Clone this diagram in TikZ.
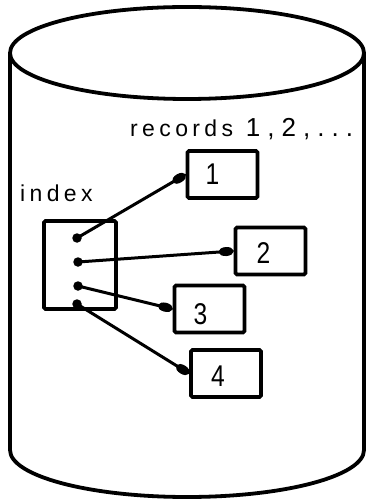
\documentclass[tikz,border=0pt]{standalone}
\usepackage{fontspec}
\setmainfont{Liberation Sans}
\newfontfamily\labelfont[LetterSpace=19]{Liberation Sans}
\newfontfamily\countfont[LetterSpace=27]{Liberation Sans}
\usetikzlibrary{arrows.meta}
\begin{document}
\begin{tikzpicture}[x=1pt, y=-1pt,
  outline/.style={line width=3.8pt, line join=round},
  recbox/.style={draw, line width=3.8pt, rounded corners=1.5pt,
    minimum width=70pt, minimum height=47pt, inner sep=0pt},
  idxbox/.style={draw, line width=3.8pt, rounded corners=1.5pt,
    minimum width=72pt, minimum height=88pt, inner sep=0pt},
  dot/.style={circle, fill, inner sep=0pt, minimum size=9.5pt},
  link/.style={line width=3pt, -{Circle[length=15pt, width=9pt]}},
  caption/.style={font=\labelfont\fontsize{23}{25}\selectfont,
    inner sep=0pt, anchor=base west},
  digit/.style={font=\fontsize{30}{30}\selectfont, inner sep=0pt, xscale=0.82}
]
\useasboundingbox (0,0) rectangle (367,502);

% disk cylinder
\draw[outline] (187,53) ellipse [x radius=177, y radius=46];
\draw[outline] (10,53) -- (10,450)
  arc[start angle=180, end angle=0, x radius=177, y radius=47] -- (364,53);

% labels
\node[caption] (rec) at (130,137)
  {records \kern2pt{\countfont\fontsize{26}{28}\selectfont 1,2,...}};
\node[caption] (idx) at (20,202) {index};

% index block with its pointers
\node[idxbox] (ix) at (80,265) {};
\node[dot] (d1) at (77,238) {};
\node[dot] (d2) at (78,262) {};
\node[dot] (d3) at (78,286) {};
\node[dot] (d4) at (77,304) {};

% records
\node[recbox] (b1) at (222.5,174.5) {};
\node[recbox] (b2) at (270.5,251) {};
\node[recbox] (b3) at (209.5,309) {};
\node[recbox] (b4) at (226,373.5) {};

\node[digit] (n1) at ([shift={(-10,0)}]b1.center) {1};
\node[digit] (n2) at ([shift={(-7,2)}]b2.center) {2};
\node[digit] (n3) at ([shift={(-9,5)}]b3.center) {3};
\node[digit] (n4) at ([shift={(-8,3)}]b4.center) {4};

% pointers
\draw[link] (d1.center) -- (b1.west);
\draw[link] (d2.center) -- (b2.west);
\draw[link] (d3.center) -- (b3.west);
\draw[link] (d4.center) -- (b4.west);
\end{tikzpicture}
\end{document}
